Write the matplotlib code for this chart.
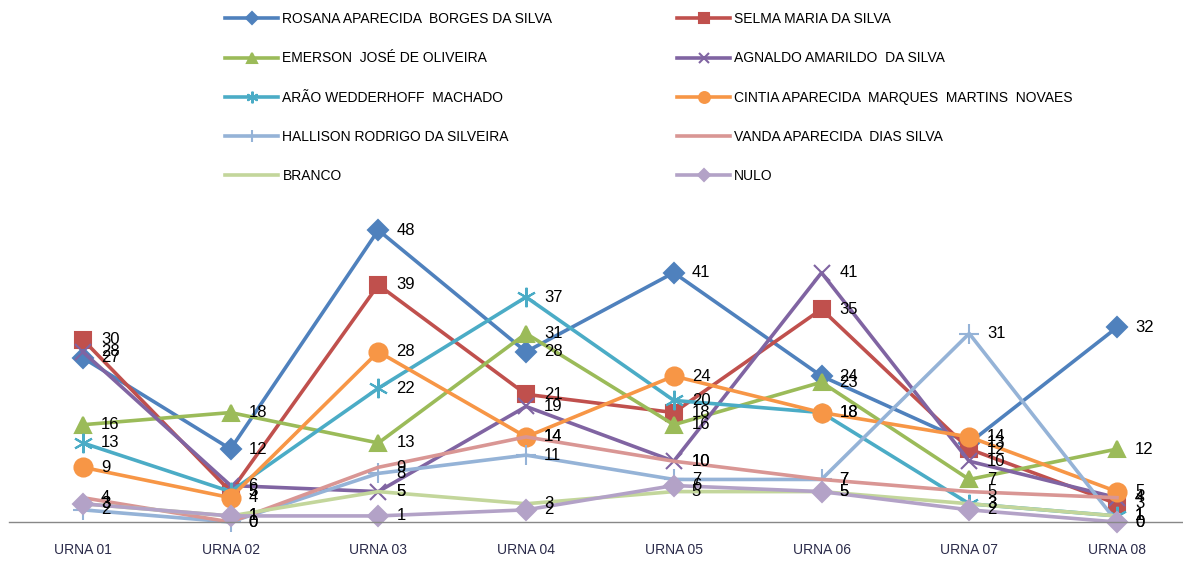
import matplotlib
matplotlib.use("Agg")
import matplotlib.pyplot as plt

plt.rcParams['font.family'] = ['Liberation Sans', 'DejaVu Sans']

urnas = ["URNA 01", "URNA 02", "URNA 03", "URNA 04", "URNA 05", "URNA 06", "URNA 07", "URNA 08"]

rosana = [27, 12, 48, 28, 41, 24, 13, 32]
selma = [30, 5, 39, 21, 18, 35, 12, 3]
emerson = [16, 18, 13, 31, 16, 23, 7, 12]
agnaldo = [28, 6, 5, 19, 10, 41, 10, 4]
arao = [13, 5, 22, 37, 20, 18, 3, 1]
cintia = [9, 4, 28, 14, 24, 18, 14, 5]
hallison = [2, 0, 8, 11, 7, 7, 31, 0]
vanda = [4, 0, 9, 14, 10, 7, 5, 4]
branco = [3, 1, 5, 3, 5, 5, 3, 1]
nulo = [3, 1, 1, 2, 6, 5, 2, 0]

series = [
    ("ROSANA APARECIDA  BORGES DA SILVA", rosana, "#4F81BD", "D", 10),
    ("SELMA MARIA DA SILVA", selma, "#C0504D", "s", 12),
    ("EMERSON  JOSÉ DE OLIVEIRA", emerson, "#9BBB59", "^", 12),
    ("AGNALDO AMARILDO  DA SILVA", agnaldo, "#8064A2", "x", 12),
    ("ARÃO WEDDERHOFF  MACHADO", arao, "#4BACC6", (6, 2, 0), 14),
    ("CINTIA APARECIDA  MARQUES  MARTINS  NOVAES", cintia, "#F79646", "o", 13),
    ("HALLISON RODRIGO DA SILVEIRA", hallison, "#95B3D7", "+", 14),
    ("VANDA APARECIDA  DIAS SILVA", vanda, "#D99694", None, 0),
    ("BRANCO", branco, "#C3D69B", None, 0),
    ("NULO", nulo, "#B3A2C7", "D", 10),
]

fig = plt.figure(figsize=(11.83, 5.63), dpi=100)
ax = fig.add_axes([0.0076, 0.0728, 0.9924, 0.54])

x = list(range(len(urnas)))
handles = []
for name, vals, color, marker, ms in series:
    h, = ax.plot(x, vals, color=color, linewidth=2.6, marker=marker, markersize=ms,
                 markeredgewidth=1.5, markeredgecolor=color, label=name, clip_on=False)
    handles.append(h)

# rótulos de dados, à direita de cada ponto
for name, vals, color, marker, ms in series:
    for xi, v in zip(x, vals):
        ax.annotate(str(v), (xi, v), xytext=(18, 0), textcoords="offset pixels",
                    ha="left", va="center", fontsize=12, color="black")

ax.set_xlim(-0.5, 7.447)
ax.set_ylim(0, 50)
ax.set_xticks(x)
ax.set_xticklabels(urnas, fontsize=10, color="#2b2b4a")
ax.tick_params(axis="x", length=0, pad=15)
ax.set_yticks([])
for s in ["top", "right", "left"]:
    ax.spines[s].set_visible(False)
ax.spines["bottom"].set_color("#888888")
ax.spines["bottom"].set_linewidth(1)

order = [0, 2, 4, 6, 8, 1, 3, 5, 7, 9]
leg = fig.legend([handles[i] for i in order], [series[i][0] for i in order],
                 ncol=2, loc="upper left", bbox_to_anchor=(0.180, 1.0005),
                 frameon=False, fontsize=10, handlelength=3.8, labelspacing=1.82,
                 columnspacing=9.0, handletextpad=0.3, markerscale=0.6)

plt.savefig("out.png", dpi=100)
